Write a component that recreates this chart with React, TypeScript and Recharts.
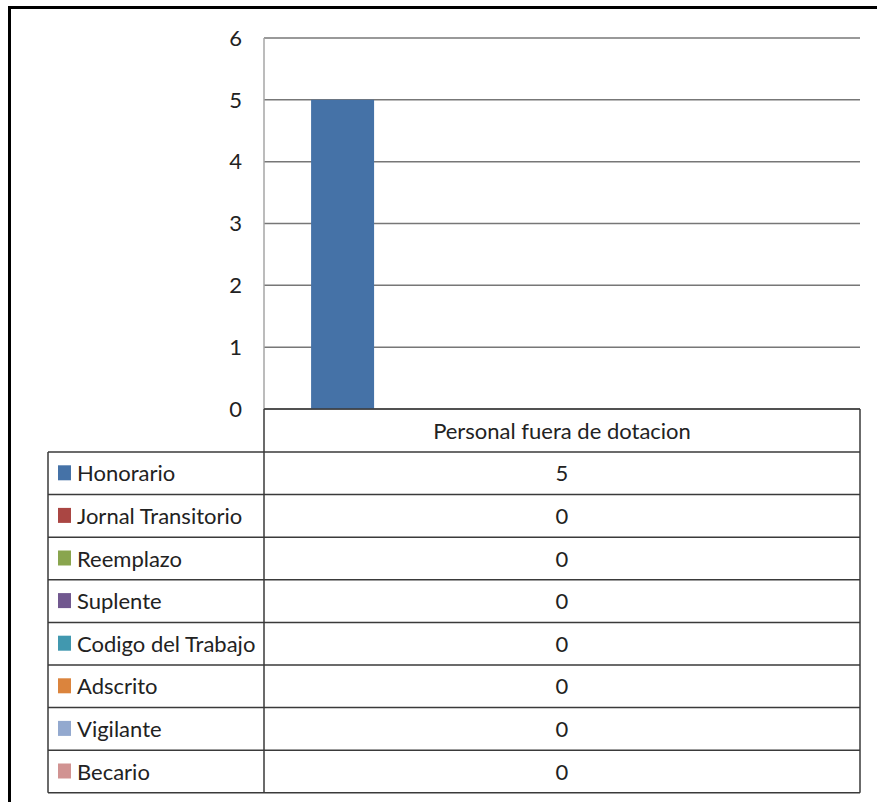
import React from "react";
import { BarChart, Bar, XAxis, YAxis, CartesianGrid } from "recharts";

const categories = ["Personal fuera de dotacion"];
const seriesNames = [
  "Honorario",
  "Jornal Transitorio",
  "Reemplazo",
  "Suplente",
  "Codigo del Trabajo",
  "Adscrito",
  "Vigilante",
  "Becario",
];
const seriesValues = [5, 0, 0, 0, 0, 0, 0, 0];
const seriesColors = [
  "#4572A7",
  "#AA4643",
  "#89A54E",
  "#71588F",
  "#4198AF",
  "#DB843D",
  "#93A9CF",
  "#D19392",
];
const yTicks = [0, 1, 2, 3, 4, 5, 6];

const data = categories.map((c) => {
  const row: Record<string, string | number> = { name: c };
  seriesNames.forEach((s, i) => {
    row[s] = seriesValues[i];
  });
  return row;
});

const CHART_W = 866;
const CHART_H = 790;
const PLOT_LEFT = 253;
const PLOT_RIGHT = 849;
const PLOT_TOP = 29;
const PLOT_BOTTOM = 400;
const LEGEND_LEFT = 37;
const HEADER_H = 43;
const ROW_H = 42.6;
const LINE = "#3a3a3a";
const TEXT = "#222";
const FONT = "Lato, 'Open Sans', sans-serif";

const TableTick = (props: any) => {
  const { x, y, payload } = props;
  const top = y;
  const rowsTop = top + HEADER_H;
  const bottom = rowsTop + ROW_H * seriesNames.length;
  const elems: React.ReactNode[] = [];
  // header
  elems.push(
    <text key="hdr" x={x} y={top + HEADER_H / 2 + 8} textAnchor="middle" fontSize={22} fill={TEXT} fontFamily={FONT}>
      {payload.value}
    </text>
  );
  // horizontal lines
  elems.push(<line key="h0" x1={PLOT_LEFT} x2={PLOT_RIGHT} y1={top} y2={top} stroke={LINE} strokeWidth={1.5} />);
  for (let i = 0; i <= seriesNames.length; i++) {
    const yy = rowsTop + i * ROW_H;
    elems.push(<line key={"h" + (i + 1)} x1={LEGEND_LEFT} x2={PLOT_RIGHT} y1={yy} y2={yy} stroke={LINE} strokeWidth={1.5} />);
  }
  // vertical lines
  elems.push(<line key="v0" x1={LEGEND_LEFT} x2={LEGEND_LEFT} y1={rowsTop} y2={bottom} stroke={LINE} strokeWidth={1.5} />);
  elems.push(<line key="v1" x1={PLOT_LEFT} x2={PLOT_LEFT} y1={top} y2={bottom} stroke={LINE} strokeWidth={1.5} />);
  elems.push(<line key="v2" x1={PLOT_RIGHT} x2={PLOT_RIGHT} y1={top} y2={bottom} stroke={LINE} strokeWidth={1.5} />);
  seriesNames.forEach((s, i) => {
    const cy = rowsTop + i * ROW_H + ROW_H / 2;
    elems.push(<rect key={"k" + i} x={LEGEND_LEFT + 10} y={cy - 8} width={13} height={15} fill={seriesColors[i]} />);
    elems.push(
      <text key={"l" + i} x={LEGEND_LEFT + 29} y={cy + 8} fontSize={22} fill={TEXT} fontFamily={FONT}>
        {s}
      </text>
    );
    elems.push(
      <text key={"v" + i} x={x} y={cy + 8} textAnchor="middle" fontSize={22} fill={TEXT} fontFamily={FONT}>
        {String(data[payload.index ?? 0][s])}
      </text>
    );
  });
  return <g>{elems}</g>;
};

export default function App() {
  return (
    <div
      style={{
        position: "absolute",
        left: 8,
        top: 6,
        width: 869,
        height: 796,
        boxSizing: "border-box",
        borderTop: "3px solid #000",
        borderLeft: "3px solid #000",
        background: "#fff",
        overflow: "hidden",
      }}
    >
      <BarChart
        width={CHART_W}
        height={CHART_H}
        data={data}
        margin={{ top: PLOT_TOP, right: CHART_W - PLOT_RIGHT, left: PLOT_LEFT - 60, bottom: CHART_H - PLOT_BOTTOM - 385 }}
        barCategoryGap="7.9%"
        barGap={0}
        style={{ fontFamily: FONT }}
      >
        <CartesianGrid vertical={false} stroke="#777" strokeWidth={1.5} />
        <XAxis
          dataKey="name"
          height={385}
          axisLine={false}
          tickLine={false}
          tickSize={0}
          tickMargin={0}
          interval={0}
          tick={<TableTick />}
        />
        <YAxis
          width={60}
          domain={[0, 6]}
          ticks={yTicks}
          interval={0}
          tickLine={false}
          tickSize={0}
          tickMargin={22}
          axisLine={{ stroke: "#a6a6a6", strokeWidth: 1.5 }}
          tick={{ fontSize: 22, fill: TEXT, fontFamily: FONT }}
        />
        {seriesNames.map((s, i) => (
          <Bar key={s} dataKey={s} fill={seriesColors[i]} isAnimationActive={false} />
        ))}
      </BarChart>
    </div>
  );
}
